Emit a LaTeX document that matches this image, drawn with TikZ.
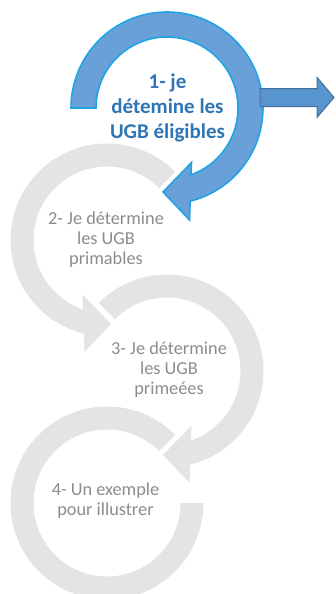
\documentclass[tikz,border=0pt]{standalone}
\usepackage{fontspec}
\setmainfont{Carlito}
\begin{document}
\begin{tikzpicture}[x=1pt,y=1pt]
\definecolor{ringblue}{RGB}{104,160,215}
\definecolor{ringedge}{RGB}{30,165,230}
\definecolor{arrowblue}{RGB}{88,148,206}
\definecolor{arrowedge}{RGB}{65,113,156}
\definecolor{txtblue}{RGB}{46,117,182}
\definecolor{ringgray}{RGB}{228,228,228}
\definecolor{txtgray}{RGB}{140,140,140}
\tikzset{
 bluering/.style={fill=ringblue, draw=ringedge, line width=1.6pt, line join=miter},
 grayring/.style={fill=ringgray},
 bluetext/.style={text=txtblue, font=\fontsize{21}{25}\selectfont\bfseries, align=center, inner sep=0pt},
 graytext/.style={text=txtgray, font=\fontsize{18.3}{20}\selectfont, align=center, inner sep=0pt},
 blockarrow/.style={fill=arrowblue, draw=arrowedge, line width=1pt, line join=miter},
}
\useasboundingbox (0,0) rectangle (336,-594);
\clip (0,0) rectangle (336,-594);
% ring 4
\begin{scope}[shift={(107,-503)}]
\fill[grayring] (45:96.5pt) arc[start angle=45, end angle=360, radius=96.5pt] -- (0:73.5pt) arc[start angle=360, end angle=45, radius=73.5pt] -- cycle;
\end{scope}
% ring 3
\begin{scope}[shift={(167,-371)}]
\fill[grayring] (135:96.5pt) arc[start angle=135, end angle=-76.1, radius=96.5pt] -- (22.5,-112) -- (-4,-84) -- (24.5,-54.5) -- (-71:73.5pt) arc[start angle=-71, end angle=135, radius=73.5pt] -- cycle;
\end{scope}
% ring 2
\begin{scope}[shift={(107,-240)}]
\fill[grayring] (45:96.5pt) arc[start angle=45, end angle=256.1, radius=96.5pt] -- (-22.5,-112) -- (4,-84) -- (-24.5,-54.5) -- (251:73.5pt) arc[start angle=251, end angle=45, radius=73.5pt] -- cycle;
\end{scope}
% ring 1
\begin{scope}[shift={(167,-108)}]
\filldraw[bluering] (180:96pt) arc[start angle=180, end angle=-76.05, radius=96pt] -- (22.5,-112) -- (-4,-84) -- (24.5,-54.5) -- (-70.2:71pt) arc[start angle=-70.2, end angle=180, radius=71pt] -- cycle;
\end{scope}
% block arrow
\filldraw[blockarrow] (260,-88.5) -- (317,-88.5) -- (317,-77.3) -- (334,-97.5) -- (317,-117.5) -- (317,-106.5) -- (260,-106.5) -- cycle;
% texts
\node[bluetext] (t1) at (167.5,-108) {1- je\\détemine les\\UGB éligibles};
\node[graytext] (t2) at (106,-240) {2- Je détermine\\les UGB\\primables};
\node[graytext] (t3) at (169,-370) {3- Je détermine\\les UGB\\primeées};
\node[graytext] (t4) at (105.5,-500.5) {4- Un exemple\\pour illustrer};
\end{tikzpicture}
\end{document}
